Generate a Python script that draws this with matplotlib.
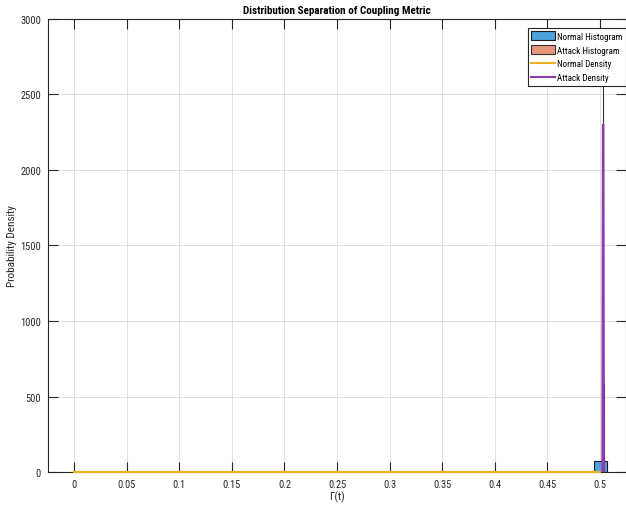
import matplotlib.pyplot as plt
from matplotlib import font_manager

# histogram bins (centers, widths, heights)
normal_bin_centers = [0.5005]
normal_bin_widths = [0.0125]
normal_bin_heights = [75]

attack_bin_centers = [0.5030, 0.5035]
attack_bin_widths = [0.0005, 0.0005]
attack_bin_heights = [2650, 580]

# density curves
normal_density_x = [0.0, 0.1, 0.2, 0.3, 0.4, 0.49, 0.5]
normal_density_y = [0, 0, 0, 0, 0, 0, 0]

attack_density_x = [0.5025, 0.5030, 0.5035, 0.5040]
attack_density_y = [0, 2300, 2300, 0]

x_ticks = [0, 0.05, 0.1, 0.15, 0.2, 0.25, 0.3, 0.35, 0.4, 0.45, 0.5]
x_tick_labels = ["0", "0.05", "0.1", "0.15", "0.2", "0.25", "0.3", "0.35", "0.4", "0.45", "0.5"]
y_ticks = [0, 500, 1000, 1500, 2000, 2500, 3000]

installed = {f.name for f in font_manager.fontManager.ttflist}
family = "Liberation Sans"
for cand in ["Liberation Sans Narrow", "Roboto Condensed", "Open Sans Condensed"]:
    if cand in installed:
        family = cand
        break
plt.rcParams["font.family"] = [family, "DejaVu Sans"]

fig = plt.figure(figsize=(6.26, 5.06), dpi=100)
ax = fig.add_axes([0.0767, 0.0652, 0.9233, 0.8953])

ax.bar(normal_bin_centers, normal_bin_heights, width=normal_bin_widths,
       color="#4da3dc", edgecolor="#1a1a1a", linewidth=0.8, label="Normal Histogram", zorder=2)
ax.bar(attack_bin_centers, attack_bin_heights, width=attack_bin_widths,
       color="#e8957a", edgecolor="#333333", linewidth=0.8, label="Attack Histogram", zorder=3)
ax.plot(normal_density_x, normal_density_y, color="#EDB120", linewidth=1.5,
        label="Normal Density", zorder=6, clip_on=False)
ax.plot(attack_density_x, attack_density_y, color="#8E3BB0", linewidth=1.5,
        label="Attack Density", zorder=5)

ax.set_xlim(-0.025, 0.525)
ax.set_ylim(0, 3000)
ax.set_xticks(x_ticks)
ax.set_xticklabels(x_tick_labels)
ax.set_yticks(y_ticks)

ax.grid(True, color="#e0e0e0", linewidth=0.7, zorder=0)
ax.set_axisbelow(True)
ax.tick_params(direction="in", length=7, width=0.8, top=True, right=True,
               labelsize=7.5, colors="#262626", pad=5)
for side in ax.spines.values():
    side.set_color("#262626")
    side.set_linewidth(0.8)

ax.set_title("Distribution Separation of Coupling Metric", fontsize=8,
             fontweight="bold", pad=4)
ax.set_xlabel("Γ(t)", fontsize=8, color="#262626", labelpad=1)
ax.set_ylabel("Probability Density", fontsize=8, color="#262626")
ax.yaxis.set_label_coords(-0.054, 0.5)

handles, labels = ax.get_legend_handles_labels()
order = [labels.index(n) for n in ["Normal Histogram", "Attack Histogram",
                                   "Normal Density", "Attack Density"]]
leg = ax.legend([handles[i] for i in order], [labels[i] for i in order],
                loc="upper right", fontsize=6.5, frameon=True, fancybox=False,
                bbox_to_anchor=(1.0, 0.98), borderaxespad=0.0,
                handlelength=2.6, handleheight=1.1, handletextpad=0.3,
                labelspacing=0.5, borderpad=0.35)
leg.get_frame().set_edgecolor("#262626")
leg.get_frame().set_linewidth(0.8)
leg.get_frame().set_alpha(1)

fig.savefig("out.png", dpi=100)
